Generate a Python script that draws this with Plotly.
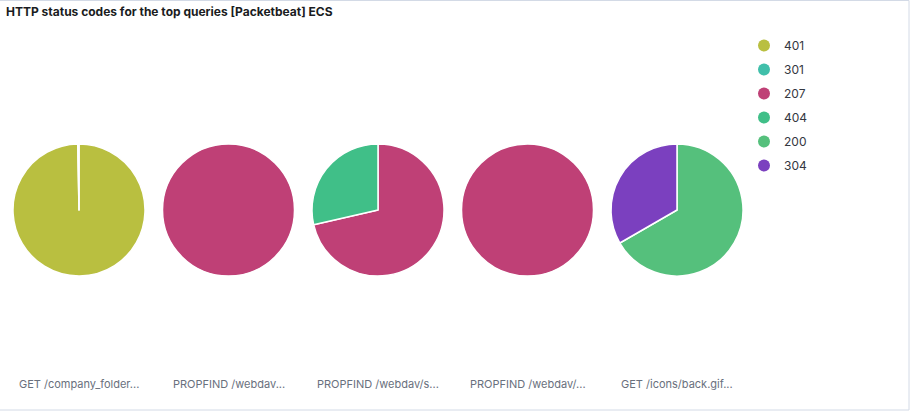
import plotly.graph_objects as go

W, H = 913, 412

title = "HTTP status codes for the top queries [Packetbeat] ECS"
queries = ["GET /company_folder...", "PROPFIND /webdav...", "PROPFIND /webdav/s...",
           "PROPFIND /webdav/...", "GET /icons/back.gif..."]
codes = ["401", "301", "207", "404", "200", "304"]
code_colors = {"401": "#B9BF40", "301": "#40BFAA", "207": "#BF4076",
               "404": "#40BF88", "200": "#55C07C", "304": "#7B40BF"}

pie_labels = [["401", "301"], ["207"], ["207", "404"], ["207"], ["200", "304"]]
pie_values = [[330, 1], [12], [5, 2], [9], [2, 1]]

fig = go.Figure()

cx0, dx, cy, r = 79, 149.5, 210, 66
for i, (labs, vals) in enumerate(zip(pie_labels, pie_values)):
    cx = cx0 + dx * i
    fig.add_trace(go.Pie(
        labels=labs, values=vals, sort=False, direction="clockwise", rotation=0,
        marker=dict(colors=[code_colors[l] for l in labs], line=dict(color="white", width=1.5)),
        textinfo="none", hoverinfo="label+value+percent", showlegend=False,
        domain=dict(x=[(cx - r) / W, (cx + r) / W], y=[(H - cy - r) / H, (H - cy + r) / H]),
    ))
    fig.add_annotation(x=cx / W, y=(H - 384) / H, xref="paper", yref="paper",
                       text=queries[i], showarrow=False, xanchor="center", yanchor="middle",
                       font=dict(family="Inter", size=11, color="#69707D"))

for c in codes:
    fig.add_trace(go.Scatter(x=[None], y=[None], mode="markers", name=c, legendgroup=c,
                             marker=dict(symbol="circle", size=12, color=code_colors[c])))

fig.add_annotation(x=4 / W, y=1 - 12 / H, xref="paper", yref="paper", text="<b>" + title + "</b>",
                   showarrow=False, xanchor="left", yanchor="middle",
                   font=dict(family="Inter", size=12, color="#1A1C21"))

fig.add_shape(type="rect", xref="paper", yref="paper", x0=-6 / W, x1=909 / W, y0=(H - 410) / H, y1=1 - 0.5 / H,
              line=dict(color="#D3DAE6", width=1), fillcolor="rgba(0,0,0,0)", layer="below")

fig.update_layout(
    width=W, height=H, margin=dict(l=0, r=0, t=0, b=0),
    paper_bgcolor="white", plot_bgcolor="white",
    xaxis=dict(visible=False), yaxis=dict(visible=False),
    showlegend=True,
    legend=dict(x=744 / W, y=1 - 31 / H, xanchor="left", yanchor="top", itemwidth=30,
                font=dict(family="Inter", size=12, color="#343741"),
                traceorder="grouped", tracegroupgap=5, bgcolor="rgba(0,0,0,0)"),
)

fig.write_html("out.html")
